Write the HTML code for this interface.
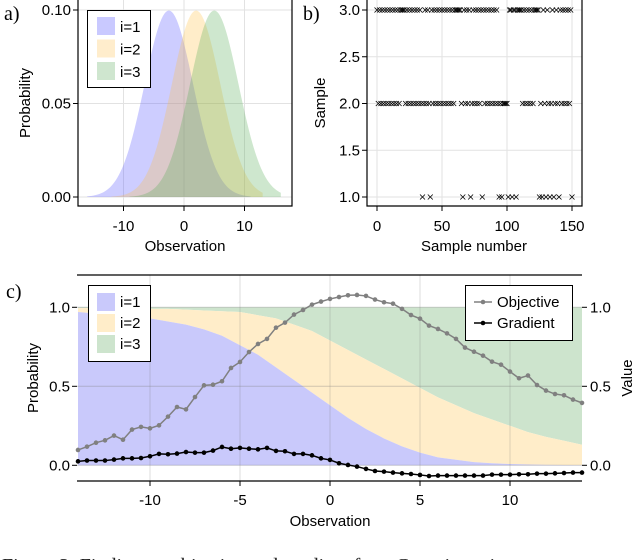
<!DOCTYPE html>
<html><head><meta charset="utf-8"><style>
body{margin:0;background:#fff;}
svg{display:block;font-family:"Liberation Sans",sans-serif;}
</style></head><body>
<svg id="fig" width="634" height="560" viewBox="0 0 634 560" xmlns="http://www.w3.org/2000/svg">
<g id="pa"></g>
<g id="pb"></g>
<g id="pc"></g>
<text x="2" y="572" font-family="Liberation Serif,serif" font-size="20" fill="#222">Figure 3: Finding an objective and gradient for a Gaussian mixture</text>
</svg>
<script>
// ---------- Data ----------
const gaussMeans = [-2.5, 2, 5];
const gaussSigma = 4;
const gaussRanges = [[-16, 11], [-12, 13], [-9, 16]];
const aYTicks = [0, 0.05, 0.10];
const aYTickLabels = ["0.00", "0.05", "0.10"];
const aXTicks = [-10, 0, 10];

const samples = [3,2,3,2,3,2,3,2,3,2,3,2,3,2,3,2,3,2,3, 3,3,3,
 2,3,2,3,2,3,2,3,2,3,2,3,2, 1, 2,3,2,3,2, 1,
 3,2,3,2,3,2,3,2,3,2,3,2,3,2,3,2, 3, 2, 3,3,3,3,3, 2, 1,
 3,2,3,2,3, 1, 2,3,2,3,2,3,2,3, 1, 3,2,3,2,3,2,3,2,3,2,3,2, 1, 2, 1,
 2,2,2,2, 1, 3,3, 1, 3,3, 1, 3,3,3,3, 2,3,2,3,2,3,2,3,2,3, 3,3,3, 1, 2, 1,
 3,2, 1, 3,2, 1, 2,3, 1, 2,3,2, 1, 3,2,3,2,3,2,3,2,3, 1];
const bYTicks = [1.0, 1.5, 2.0, 2.5, 3.0];
const bXTicks = [0, 50, 100, 150];

const cX = [-14,-13,-12,-11,-10,-9,-8,-7,-6,-5,-4,-3,-2,-1,0,1,2,3,4,5,6,7,8,9,10,11,12,13,14];
const pClass1 = [.97,.96,.95,.94,.93,.91,.89,.86,.82,.76,.70,.62,.54,.46,.38,.30,.23,.17,.12,.08,.05,.035,.02,.013,.008,.005,.003,.002,.001];
const pClass12 = [.995,.995,.995,.99,.99,.99,.985,.98,.975,.97,.95,.93,.89,.85,.79,.73,.67,.61,.55,.49,.43,.38,.33,.29,.25,.21,.18,.155,.13];
const lineX = [-14,-13.5,-13,-12.5,-12,-11.5,-11,-10.5,-10,-9.5,-9,-8.5,-8,-7.5,-7,-6.5,-6,-5.5,-5,-4.5,-4,-3.5,-3,-2.5,-2,-1.5,-1,-0.5,0,0.5,1,1.5,2,2.5,3,3.5,4,4.5,5,5.5,6,6.5,7,7.5,8,8.5,9,9.5,10,10.5,11,11.5,12,12.5,13,13.5,14];
const objective = [.097,.118,.143,.158,.188,.162,.226,.243,.234,.253,.308,.369,.354,.432,.506,.51,.532,.616,.654,.717,.768,.8,.871,.903,.954,.983,1.017,1.036,1.053,1.065,1.076,1.078,1.072,1.049,1.032,1.023,.99,.951,.928,.884,.863,.835,.8,.745,.719,.694,.656,.637,.593,.551,.568,.508,.473,.451,.443,.416,.395];
const gradient = [.025,.03,.03,.03,.036,.044,.044,.046,.057,.072,.07,.074,.084,.08,.08,.093,.116,.105,.11,.105,.101,.11,.091,.089,.072,.072,.063,.044,.034,.013,.002,-.008,-.023,-.036,-.04,-.046,-.051,-.055,-.061,-.068,-.065,-.065,-.065,-.065,-.065,-.065,-.059,-.059,-.059,-.057,-.057,-.053,-.053,-.051,-.049,-.046,-.046];
const cYTicks = [0, 0.5, 1.0];
const cYTickLabels = ["0.0", "0.5", "1.0"];
const cXTicks = [-10, -5, 0, 5, 10];

// ---------- helpers ----------
const NS = "http://www.w3.org/2000/svg";
const FS = 15;
function mk(parent, tag, attrs, text) {
  const e = document.createElementNS(NS, tag);
  for (const k in attrs) e.setAttribute(k, attrs[k]);
  if (text !== undefined) e.textContent = text;
  parent.appendChild(e);
  return e;
}
const fmtMinus = v => (v < 0 ? "-" + Math.abs(v) : "" + v);

// ---------- Panel A ----------
(function () {
  const g = document.getElementById("pa");
  const L = 78, R = 292, T = 0, B = 206;
  const xs = v => 184 + v * 6.05;
  const ys = v => 197 - v * 1870;
  const grid = mk(g, "g", {});
  
  
  aXTicks.forEach(t => mk(grid, "line", {x1: xs(t), x2: xs(t), y1: T, y2: B, stroke: "#e2e2e2"}));
  aYTicks.forEach(t => mk(grid, "line", {x1: L, x2: R, y1: ys(t), y2: ys(t), stroke: "#e2e2e2"}));
  const cols = ["rgba(90,90,255,0.3)", "rgba(255,190,60,0.28)", "rgba(80,170,80,0.28)"];
  gaussMeans.forEach((m, i) => {
    const r = gaussRanges[i];
    let d = `M${xs(r[0])},${ys(0)}`;
    for (let x = r[0]; x <= r[1] + 1e-9; x += 0.25) {
      const p = Math.exp(-0.5 * ((x - m) / gaussSigma) ** 2) / (gaussSigma * Math.sqrt(2 * Math.PI));
      d += ` L${xs(x).toFixed(2)},${ys(p).toFixed(2)}`;
    }
    d += ` L${xs(r[1])},${ys(0)} Z`;
    const p = mk(g, "path", {d: d, fill: cols[i]});
    
    
  });
  mk(g, "path", {d: `M${L},${T}V${B}H${R}V${T}`, fill: "none", stroke: "#000", "stroke-width": 1.2});
  aYTicks.forEach((t, i) => {
    mk(g, "line", {x1: L - 5, x2: L, y1: ys(t), y2: ys(t), stroke: "#000"});
    const tx = mk(g, "text", {x: L - 7, y: ys(t) + 5, "text-anchor": "end", "font-size": FS}, aYTickLabels[i]);
    
    
  });
  aXTicks.forEach(t => {
    mk(g, "line", {x1: xs(t), x2: xs(t), y1: B, y2: B + 5, stroke: "#000"});
    const tx = mk(g, "text", {x: xs(t), y: 231, "text-anchor": "middle", "font-size": FS}, fmtMinus(t));
    
    
  });
  const xt = mk(g, "text", {x: 185, y: 251, "text-anchor": "middle", "font-size": FS}, "Observation");
  
  
  const yt = mk(g, "text", {x: 0, y: 0, transform: "translate(30,103) rotate(-90)", "text-anchor": "middle", "font-size": FS}, "Probability");
  
  
  const pl = mk(g, "text", {x: 4, y: 20, "font-size": 20, "font-family": "Liberation Serif,serif"}, "a)");
  
  
  const lg = mk(g, "g", {});
  
  
  mk(lg, "rect", {x: 87.5, y: 10.5, width: 63, height: 77, fill: "#fff", stroke: "#000", "stroke-width": 1});
  const lcols = ["#c9c9ff", "#ffedcc", "#cfe6cf"];
  lcols.forEach((c, i) => {
    mk(lg, "rect", {x: 97, y: 17 + i * 22.5, width: 18, height: 18, fill: c});
    const t = mk(lg, "text", {x: 120, y: 32 + i * 22.5, "font-size": FS}, "i=" + (i + 1));
    
    
  });
})();

// ---------- Panel B ----------
(function () {
  const g = document.getElementById("pb");
  const L = 367, R = 582, T = 0, B = 206;
  const xs = v => 377 + v * 1.3;
  const ys = v => 197 - (v - 1) * 93.5;
  bXTicks.forEach(t => mk(g, "line", {x1: xs(t), x2: xs(t), y1: T, y2: B, stroke: "#e2e2e2"}));
  bYTicks.forEach(t => mk(g, "line", {x1: L, x2: R, y1: ys(t), y2: ys(t), stroke: "#e2e2e2"}));
  samples.forEach((s, i) => {
    const cx = xs(i), cy = ys(s);
    const m = mk(g, "path", {d: `M${cx-2.5},${cy-2.5}L${cx+2.5},${cy+2.5}M${cx-2.5},${cy+2.5}L${cx+2.5},${cy-2.5}`, stroke: "#000", "stroke-width": 0.8, fill: "none"});
    
    
  });
  mk(g, "path", {d: `M${L},${T}V${B}H${R}V${T}`, fill: "none", stroke: "#000", "stroke-width": 1.2});
  bYTicks.forEach(t => {
    mk(g, "line", {x1: L - 5, x2: L, y1: ys(t), y2: ys(t), stroke: "#000"});
    const tx = mk(g, "text", {x: L - 7, y: ys(t) + 5, "text-anchor": "end", "font-size": FS}, t.toFixed(1));
    
    
  });
  bXTicks.forEach(t => {
    mk(g, "line", {x1: xs(t), x2: xs(t), y1: B, y2: B + 5, stroke: "#000"});
    const tx = mk(g, "text", {x: xs(t), y: 231, "text-anchor": "middle", "font-size": FS}, "" + t);
    
    
  });
  const xt = mk(g, "text", {x: 474, y: 251, "text-anchor": "middle", "font-size": FS}, "Sample number");
  
  
  const yt = mk(g, "text", {x: 0, y: 0, transform: "translate(325,103) rotate(-90)", "text-anchor": "middle", "font-size": FS}, "Sample");
  
  
  const pl = mk(g, "text", {x: 303, y: 20, "font-size": 20, "font-family": "Liberation Serif,serif"}, "b)");
  
  
})();

// ---------- Panel C ----------
(function () {
  const g = document.getElementById("pc");
  const L = 77, R = 582, T = 275, B = 481;
  const xs = v => 330 + v * 18;
  const ys = v => 465.3 - v * 158;
  function band(lo, hi, col, name) {
    let d = "M" + xs(cX[0]) + "," + ys(hi[0]);
    for (let i = 1; i < cX.length; i++) d += " L" + xs(cX[i]) + "," + ys(hi[i]);
    for (let i = cX.length - 1; i >= 0; i--) d += " L" + xs(cX[i]) + "," + ys(lo ? lo[i] : 0);
    d += " Z";
    const p = mk(g, "path", {d: d, fill: col});
    
    
  }
  const ones = cX.map(() => 1);
  band(pClass12, ones, "#cde4cd", "area-i3");
  band(pClass1, pClass12, "#ffedc9", "area-i2");
  band(null, pClass1, "#c9c9fb", "area-i1");
  cXTicks.forEach(t => mk(g, "line", {x1: xs(t), x2: xs(t), y1: T, y2: B, stroke: "rgba(120,120,120,0.25)"}));
  cYTicks.forEach(t => mk(g, "line", {x1: L, x2: R, y1: ys(t), y2: ys(t), stroke: "rgba(120,120,120,0.35)"}));
  function series(vals, col, name) {
    const pts = lineX.map((x, i) => xs(x) + "," + ys(vals[i])).join(" ");
    const pl = mk(g, "polyline", {points: pts, fill: "none", stroke: col, "stroke-width": 1.5});
    
    
    lineX.forEach((x, i) => {
      const c = mk(g, "circle", {cx: xs(x), cy: ys(vals[i]), r: 2.3, fill: col});
      
      
    });
  }
  series(objective, "#808080", "objective");
  series(gradient, "#000", "gradient");
  mk(g, "path", {d: `M${L},${T}H${R}M${L},${B}H${R}`, fill: "none", stroke: "#000", "stroke-width": 1.2});
  cYTicks.forEach((t, i) => {
    mk(g, "line", {x1: L - 5, x2: L, y1: ys(t), y2: ys(t), stroke: "#000"});
    mk(g, "line", {x1: R, x2: R + 5, y1: ys(t), y2: ys(t), stroke: "#000"});
    const tx = mk(g, "text", {x: L - 7, y: ys(t) + 5, "text-anchor": "end", "font-size": FS}, cYTickLabels[i]);
    
    
    const tr = mk(g, "text", {x: R + 8, y: ys(t) + 5, "font-size": FS}, cYTickLabels[i]);
    
    
  });
  cXTicks.forEach(t => {
    mk(g, "line", {x1: xs(t), x2: xs(t), y1: B, y2: B + 5, stroke: "#000"});
    const tx = mk(g, "text", {x: xs(t), y: 505, "text-anchor": "middle", "font-size": FS}, fmtMinus(t));
    
    
  });
  const xt = mk(g, "text", {x: 330, y: 526, "text-anchor": "middle", "font-size": FS}, "Observation");
  
  
  const yt = mk(g, "text", {x: 0, y: 0, transform: "translate(38,378) rotate(-90)", "text-anchor": "middle", "font-size": FS}, "Probability");
  
  
  const yr = mk(g, "text", {x: 0, y: 0, transform: "translate(632,378) rotate(-90)", "text-anchor": "middle", "font-size": FS}, "Value");
  
  
  const pl = mk(g, "text", {x: 6, y: 298, "font-size": 20, "font-family": "Liberation Serif,serif"}, "c)");
  
  
  // left legend
  const lg = mk(g, "g", {});
  
  
  mk(lg, "rect", {x: 88.5, y: 285.5, width: 62, height: 76, fill: "#fff", stroke: "#000"});
  ["#c9c9fb", "#ffedc9", "#cde4cd"].forEach((c, i) => {
    mk(lg, "rect", {x: 97, y: 293 + i * 21, width: 18, height: 18, fill: c});
    const t = mk(lg, "text", {x: 120, y: 307 + i * 21, "font-size": FS}, "i=" + (i + 1));
    
    
  });
  // right legend
  const rg = mk(g, "g", {});
  
  
  mk(rg, "rect", {x: 465.5, y: 285.5, width: 107, height: 55, fill: "#fff", stroke: "#000"});
  [["Objective", "#808080"], ["Gradient", "#000"]].forEach((e, i) => {
    const y = 302 + i * 21;
    mk(rg, "line", {x1: 474, x2: 492, y1: y, y2: y, stroke: e[1], "stroke-width": 1.5});
    mk(rg, "circle", {cx: 483, cy: y, r: 2.3, fill: e[1]});
    const t = mk(rg, "text", {x: 497, y: y + 5, "font-size": FS}, e[0]);
    
    
  });
})();
</script>
</body></html>
